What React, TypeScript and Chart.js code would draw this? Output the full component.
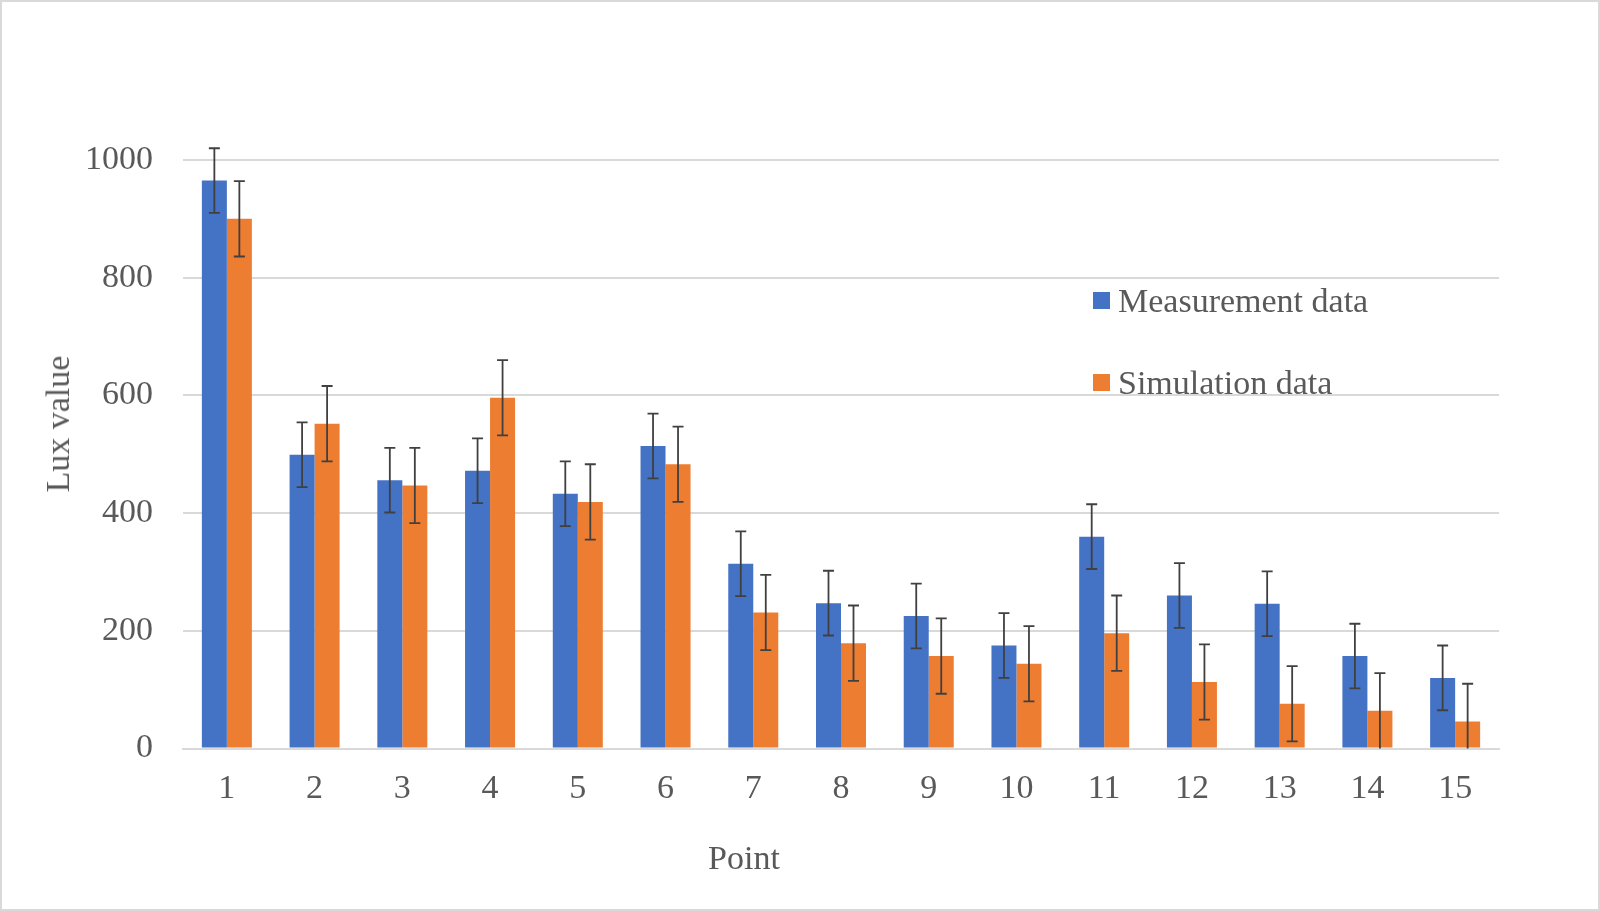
import { Chart, registerables } from 'chart.js';
import { useEffect, useRef } from 'react';

Chart.register(...registerables);

const points = ['1', '2', '3', '4', '5', '6', '7', '8', '9', '10', '11', '12', '13', '14', '15'];
const measurement = [965, 499, 456, 472, 433, 514, 314, 247, 225, 175, 360, 260, 246, 157, 120];
const simulation = [900, 552, 447, 596, 419, 483, 231, 179, 157, 144, 196, 113, 76, 64, 46];
const measurementError = [55, 55, 55, 55, 55, 55, 55, 55, 55, 55, 55, 55, 55, 55, 55];
const simulationError = [64, 64, 64, 64, 64, 64, 64, 64, 64, 64, 64, 64, 64, 64, 64];
const yTicks = [0, 200, 400, 600, 800, 1000];

const BLUE = '#4472C4';
const ORANGE = '#ED7D31';
const TEXT = '#595959';
const GRID = '#d9d9d9';
const FONT = "'Liberation Serif', 'Times New Roman', serif";

// draws +/- error bars on top of each bar
const errorBars = {
  id: 'errorBars',
  afterDatasetsDraw(chart: any) {
    const { ctx, scales } = chart;
    const errors = [measurementError, simulationError];
    ctx.save();
    ctx.strokeStyle = '#404040';
    ctx.lineWidth = 1.8;
    chart.data.datasets.forEach((ds: any, di: number) => {
      const meta = chart.getDatasetMeta(di);
      meta.data.forEach((bar: any, i: number) => {
        const v = ds.data[i];
        const e = errors[di][i];
        const top = scales.y.getPixelForValue(v + e);
        const bottom = scales.y.getPixelForValue(Math.max(0, v - e));
        const x = bar.x;
        ctx.beginPath();
        ctx.moveTo(x, top);
        ctx.lineTo(x, bottom);
        ctx.moveTo(x - 5.5, top);
        ctx.lineTo(x + 5.5, top);
        if (v - e > 0) {
          ctx.moveTo(x - 5.5, bottom);
          ctx.lineTo(x + 5.5, bottom);
        }
        ctx.stroke();
      });
    });
    ctx.restore();
  },
};

const textStyle = {
  position: 'absolute' as const,
  fontFamily: FONT,
  fontSize: 34,
  lineHeight: '40px',
  color: TEXT,
  whiteSpace: 'nowrap' as const,
};

const App = () => {
  const ref = useRef<HTMLCanvasElement>(null);

  useEffect(() => {
    if (ref.current == null) return () => {};
    const chart = new Chart(ref.current, {
      type: 'bar',
      data: {
        labels: points,
        datasets: [
          {
            label: 'Measurement data',
            data: measurement,
            backgroundColor: BLUE,
            categoryPercentage: 0.57,
            barPercentage: 1,
          },
          {
            label: 'Simulation data',
            data: simulation,
            backgroundColor: ORANGE,
            categoryPercentage: 0.57,
            barPercentage: 1,
          },
        ],
      },
      options: {
        animation: false,
        responsive: true,
        maintainAspectRatio: false,
        layout: { padding: { top: 160, right: 101, bottom: 0, left: 0 } },
        plugins: {
          legend: { display: false },
          tooltip: { enabled: false },
        },
        scales: {
          x: {
            grid: { display: false, drawTicks: false },
            border: { display: true, color: GRID, width: 2 },
            ticks: { color: TEXT, font: { family: FONT, size: 34 }, padding: 20, maxRotation: 0 },
            afterFit: (scale: any) => {
              scale.height = 162.5;
            },
          },
          y: {
            min: 0,
            max: 1000,
            afterBuildTicks: (scale: any) => {
              scale.ticks = yTicks.map((v) => ({ value: v }));
            },
            grid: {
              color: (c: any) => (c.tick && c.tick.value === 0 ? 'rgba(0,0,0,0)' : GRID),
              lineWidth: 2,
              drawTicks: false,
            },
            border: { display: false },
            ticks: {
              color: TEXT,
              font: { family: FONT, size: 34 },
              padding: 30,
              callback: (v: any) => String(v),
            },
            afterFit: (scale: any) => {
              scale.width = 183;
            },
          },
        },
      },
      plugins: [errorBars],
    });
    return () => {
      chart.destroy();
    };
  }, []);

  const legendItems = [
    { label: 'Measurement data', color: BLUE, top: 280.5 },
    { label: 'Simulation data', color: ORANGE, top: 362.5 },
  ];

  return (
    <div style={{ position: 'fixed', left: 0, top: 0, width: 1600, height: 911, background: '#fff' }}>
      <canvas ref={ref} />
      {legendItems.map((item) => (
        <div
          key={item.label}
          style={{ ...textStyle, left: 1093, top: item.top, display: 'flex', alignItems: 'center' }}
        >
          <span style={{ display: 'inline-block', width: 17, height: 17, background: item.color, marginRight: 8 }} />
          <span>{item.label}</span>
        </div>
      ))}
      <div
        style={{
          ...textStyle,
          left: 58,
          top: 424,
          transform: 'translate(-50%, -50%) rotate(-90deg)',
        }}
      >
        Lux value
      </div>
      <div style={{ ...textStyle, left: 644, width: 200, top: 837.5, textAlign: 'center' }}>Point</div>
      <div
        style={{
          position: 'absolute',
          inset: 0,
          border: '2px solid #d9d9d9',
          pointerEvents: 'none',
        }}
      />
    </div>
  );
};

export default App;
